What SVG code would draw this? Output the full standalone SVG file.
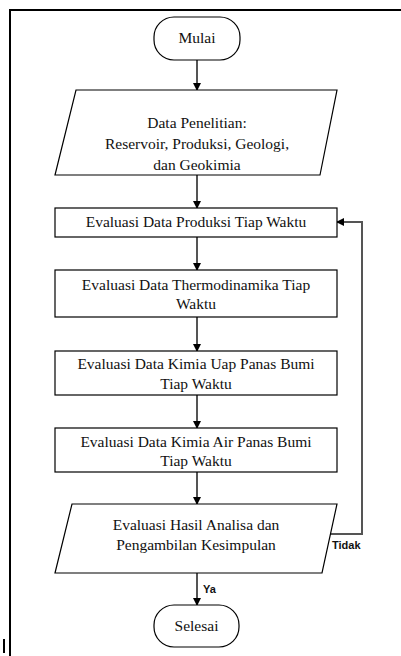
<svg xmlns="http://www.w3.org/2000/svg" width="401" height="656" viewBox="0 0 401 656">
<style>
.sh{fill:#fff;stroke:#000;stroke-width:1.2}
.t{font-family:"Liberation Serif","Times New Roman",serif;font-size:15.5px;fill:#111;text-anchor:middle}
.l{font-family:"Liberation Sans",Arial,sans-serif;font-size:11px;fill:#111;font-weight:bold}
.c{fill:none;stroke:#555;stroke-width:2}
</style>
<defs>
<marker id="ah" markerWidth="8" markerHeight="8" refX="7" refY="4" orient="auto" markerUnits="userSpaceOnUse">
<path d="M0,0 L8,4 L0,8 Z" fill="#000"/>
</marker>
</defs>
<rect width="401" height="656" fill="#fff"/>
<path d="M10,656 V10 H401" fill="none" stroke="#000" stroke-width="2"/>
<line x1="4" y1="639" x2="4" y2="653" stroke="#000" stroke-width="2"/>
<g id="connectors">
<line class="c" x1="197" y1="60" x2="197" y2="90" marker-end="url(#ah)"/>
<line class="c" x1="197" y1="175" x2="197" y2="208" marker-end="url(#ah)"/>
<line class="c" x1="197" y1="237" x2="197" y2="270" marker-end="url(#ah)"/>
<line class="c" x1="197" y1="317" x2="197" y2="351" marker-end="url(#ah)"/>
<line class="c" x1="197" y1="395" x2="197" y2="428" marker-end="url(#ah)"/>
<line class="c" x1="197" y1="472" x2="197" y2="504" marker-end="url(#ah)"/>
<line class="c" x1="197" y1="573" x2="197" y2="605" marker-end="url(#ah)"/>
<polyline class="c" points="330,534 362,534 362,222 337,222" marker-end="url(#ah)"/>
<text class="l" x="332" y="549">Tidak</text>
<text class="l" x="203" y="593">Ya</text>
</g>
<g id="mulai">
<rect class="sh" x="154" y="17" width="86" height="43" rx="20"/>
<text class="t" x="197" y="43">Mulai</text>
</g>
<g id="data">
<polygon class="sh" points="76,90 337,90 320,175 55,175"/>
<text class="t" x="197" y="128">Data Penelitian:</text>
<text class="t" x="197" y="149">Reservoir, Produksi, Geologi,</text>
<text class="t" x="197" y="170">dan Geokimia</text>
</g>
<g id="produksi">
<rect class="sh" x="55" y="208" width="282" height="29"/>
<text class="t" x="196" y="227">Evaluasi Data Produksi Tiap Waktu</text>
</g>
<g id="thermo">
<rect class="sh" x="55" y="270" width="282" height="47"/>
<text class="t" x="196" y="290">Evaluasi Data Thermodinamika Tiap</text>
<text class="t" x="196" y="309">Waktu</text>
</g>
<g id="uap">
<rect class="sh" x="55" y="351" width="282" height="44"/>
<text class="t" x="196" y="369">Evaluasi Data Kimia Uap Panas Bumi</text>
<text class="t" x="196" y="389">Tiap Waktu</text>
</g>
<g id="air">
<rect class="sh" x="55" y="428" width="282" height="44"/>
<text class="t" x="196" y="447">Evaluasi Data Kimia Air Panas Bumi</text>
<text class="t" x="196" y="466">Tiap Waktu</text>
</g>
<g id="hasil">
<polygon class="sh" points="72,504 337,504 322,573 55,573"/>
<text class="t" x="196" y="530">Evaluasi Hasil Analisa dan</text>
<text class="t" x="196" y="550">Pengambilan Kesimpulan</text>
</g>
<g id="selesai">
<rect class="sh" x="154" y="605" width="85" height="42" rx="20"/>
<text class="t" x="196.5" y="631">Selesai</text>
</g>
</svg>
